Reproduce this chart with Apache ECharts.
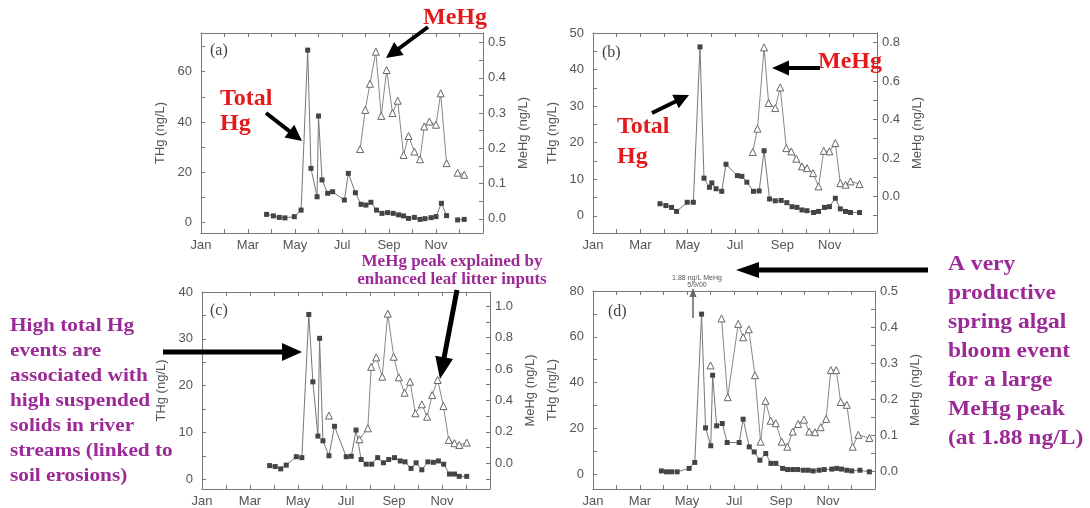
<!DOCTYPE html>
<html><head><meta charset="utf-8">
<script src="https://cdn.jsdelivr.net/npm/echarts@6/dist/echarts.min.js"></script>
<style>html,body{margin:0;padding:0;background:#fff}#c{width:1090px;height:508px}</style>
</head><body><div id="c"></div>
<script>
// ---------- DATA ----------
const monthNames = ['Jan','Mar','May','Jul','Sep','Nov'];
const monthLabelPos = [0,2,4,6,8,10];
const monthTickPos = [0,1,2,3,4,5,6,7,8,9,10,11,12];

// Panel (a)
const aThgMonth = [2.79,3.08,3.33,3.57,3.97,4.26,4.54,4.68,4.94,5.0,5.15,5.39,5.6,6.1,6.27,6.57,6.81,7.02,7.23,7.47,7.7,7.94,8.18,8.41,8.62,8.83,9.08,9.32,9.53,9.79,10.0,10.23,10.45,10.7,10.92,11.2];
const aThgVal   = [3.3,2.7,2.1,1.9,2.4,5.0,68.6,21.6,10.3,42.4,17.0,11.7,12.3,9.0,19.6,11.9,7.3,7.0,8.1,5.0,3.7,4.0,3.7,3.1,2.7,1.7,2.1,1.3,1.6,2.0,2.4,7.7,2.8,null,1.1,1.3];
const aMehgMonth = [6.77,6.99,7.19,7.44,7.67,7.9,8.15,8.37,8.62,8.83,9.08,9.32,9.5,9.72,10.0,10.2,10.45,10.7,10.92,11.2];
const aMehgVal   = [0.198,0.309,0.383,0.474,0.292,0.422,0.30,0.335,0.181,0.235,0.191,0.169,0.262,0.276,0.267,0.356,0.158,null,0.131,0.125];
const aThgLabels = [0,20,40,60];
const aThgTicks = [0,10,20,30,40,50,60,70];
const aMehgLabels = [0,0.1,0.2,0.3,0.4,0.5];
const aMehgTicks = [0,0.05,0.1,0.15,0.2,0.25,0.3,0.35,0.4,0.45,0.5];

// Panel (b)
const bThgMonth = [2.83,3.08,3.32,3.53,3.98,4.24,4.52,4.69,4.92,5.02,5.2,5.44,5.62,6.1,6.29,6.5,6.78,7.02,7.23,7.46,7.7,7.95,8.19,8.41,8.62,8.83,9.04,9.32,9.53,9.78,9.99,10.24,10.45,10.67,10.88,11.26];
const bThgVal   = [3.3,2.8,2.3,1.2,3.7,3.7,46.2,10.3,7.8,9.0,7.4,6.7,14.1,11.0,10.8,9.2,6.7,6.8,17.8,4.6,4.1,4.2,3.6,2.5,2.3,1.6,1.4,0.9,1.2,2.3,2.5,4.8,1.9,1.2,0.9,0.9];
const bMehgMonth = [6.75,6.95,7.23,7.42,7.7,7.91,8.17,8.38,8.59,8.83,9.04,9.3,9.53,9.75,9.99,10.24,10.45,10.67,10.88,11.26];
const bMehgVal   = [0.231,0.352,0.774,0.485,0.459,0.566,0.251,0.234,0.196,0.156,0.147,0.121,0.052,0.237,0.234,0.277,0.069,0.061,0.078,0.064];
const bThgLabels = [0,10,20,30,40,50];
const bThgTicks = [0,5,10,15,20,25,30,35,40,45,50];
const bMehgLabels = [0,0.2,0.4,0.6,0.8];
const bMehgTicks = [-0.1,0,0.1,0.2,0.3,0.4,0.5,0.6,0.7,0.8];

// Panel (c)
const cThgMonth = [2.82,3.05,3.28,3.51,3.93,4.16,4.45,4.62,4.83,4.9,5.04,5.29,5.52,6.01,6.22,6.42,6.63,6.84,7.07,7.32,7.56,7.78,8.02,8.26,8.46,8.71,8.92,9.16,9.41,9.64,9.85,10.07,10.31,10.52,10.72,11.03];
const cThgVal   = [2.9,2.7,2.2,3.0,4.8,4.6,35.2,20.8,9.2,30.1,8.2,5.0,11.3,4.8,4.9,10.5,4.2,3.2,3.2,4.6,3.5,4.2,4.6,3.9,3.7,2.3,3.5,2.0,3.7,3.6,3.9,3.2,1.1,1.1,0.6,0.6];
const cMehgMonth = [5.29,5.9,6.56,6.91,7.05,7.26,7.51,7.74,7.99,8.2,8.44,8.67,8.89,9.16,9.38,9.59,9.82,10.06,10.28,10.52,10.72,11.03];
const cMehgVal   = [0.303,null,0.152,0.222,0.614,0.674,0.551,0.953,0.678,0.547,0.449,0.519,0.318,0.375,0.296,0.434,0.53,0.364,0.148,0.127,0.116,0.131];
const cThgLabels = [0,10,20,30,40];
const cThgTicks = [0,5,10,15,20,25,30,35,40];
const cMehgLabels = [0,0.2,0.4,0.6,0.8,1.0];
const cMehgTicks = [-0.1,0,0.1,0.2,0.3,0.4,0.5,0.6,0.7,0.8,0.9,1.0];

// Panel (d)
const dThgMonth = [2.91,3.13,3.34,3.58,4.09,4.33,4.62,4.79,5.01,5.09,5.26,5.5,5.71,6.22,6.39,6.65,6.86,7.1,7.35,7.57,7.78,8.07,8.28,8.5,8.71,8.95,9.16,9.37,9.62,9.84,10.16,10.37,10.58,10.8,11.01,11.36,11.76];
const dThgVal   = [1.4,1.0,1.0,1.0,2.5,5.1,69.9,20.2,12.4,43.2,21.1,22.1,13.8,13.8,24.0,11.9,9.7,6.1,9.0,4.7,4.7,2.5,2.0,2.0,2.0,1.7,1.7,1.4,1.7,2.0,2.2,2.5,2.2,1.7,1.4,1.7,1.0];
const dMehgMonth = [5.0,5.2,5.47,5.73,6.18,6.39,6.63,6.89,7.13,7.34,7.56,7.78,8.03,8.27,8.5,8.73,8.98,9.2,9.45,9.69,9.92,10.12,10.35,10.54,10.8,11.05,11.29,11.76];
const dMehgVal   = [0.294,null,0.424,0.206,0.409,0.372,0.394,0.267,0.083,0.196,0.141,0.134,0.083,0.069,0.111,0.132,0.144,0.111,0.109,0.123,0.146,0.281,0.281,0.193,0.185,0.069,0.102,0.093];
const dThgLabels = [0,20,40,60,80];
const dThgTicks = [0,10,20,30,40,50,60,70,80];
const dMehgLabels = [0,0.1,0.2,0.3,0.4,0.5];
const dMehgTicks = [0,0.05,0.1,0.15,0.2,0.25,0.3,0.35,0.4,0.45,0.5];

// ---------- LAYOUT / STYLE ----------
const SANS = '"Liberation Sans", Arial, sans-serif';
const SERIF = '"Liberation Serif", "Times New Roman", serif';
const AX = '#777', TXT = '#555';
const panels = [
  {grid:{left:201,top:33,width:282,height:200}, yL:[-4.1,75.4], yR:[-0.040,0.527],
   thg:[aThgMonth,aThgVal], mehg:[aMehgMonth,aMehgVal], tl:aThgLabels, tt:aThgTicks, ml:aMehgLabels, mt:aMehgTicks},
  {grid:{left:593,top:33,width:284,height:200}, yL:[-4.7,50], yR:[-0.19,0.849],
   thg:[bThgMonth,bThgVal], mehg:[bMehgMonth,bMehgVal], tl:bThgLabels, tt:bThgTicks, ml:bMehgLabels, mt:bMehgTicks},
  {grid:{left:202,top:292,width:288,height:197}, yL:[-2.1,40], yR:[-0.165,1.091],
   thg:[cThgMonth,cThgVal], mehg:[cMehgMonth,cMehgVal], tl:cThgLabels, tt:cThgTicks, ml:cMehgLabels, mt:cMehgTicks},
  {grid:{left:593,top:291,width:282,height:198}, yL:[-6.5,80], yR:[-0.048,0.5],
   thg:[dThgMonth,dThgVal], mehg:[dMehgMonth,dMehgVal], tl:dThgLabels, tt:dThgTicks, ml:dMehgLabels, mt:dMehgTicks}
];

function pairs(xs, ys){ return xs.map((x,i)=>[x, ys[i]==null ? '-' : ys[i]]); }

const grid=[], xAxis=[], yAxis=[], series=[];
panels.forEach((p,i)=>{
  grid.push(Object.assign({show:false}, p.grid));
  const lineStyle = {color:AX, width:1};
  xAxis.push({type:'value', gridIndex:i, position:'bottom', min:0, max:12,
    axisLine:{onZero:false, lineStyle}, splitLine:{show:false},
    axisTick:{inside:true, length:4, customValues:monthTickPos, lineStyle},
    axisLabel:{customValues:monthLabelPos, formatter:v=>monthNames[Math.round(v/2)]||'', color:TXT, fontSize:13, fontFamily:SANS, margin:6}});
  xAxis.push({type:'value', gridIndex:i, position:'top', min:0, max:12,
    axisLine:{onZero:false, lineStyle}, splitLine:{show:false},
    axisTick:{inside:true, length:4, customValues:monthTickPos, lineStyle},
    axisLabel:{show:false}});
  yAxis.push({type:'value', gridIndex:i, position:'left', min:p.yL[0], max:p.yL[1],
    name:'THg (ng/L)', nameLocation:'middle', nameRotate:90, nameGap:34,
    nameTextStyle:{color:TXT, fontSize:13, fontFamily:SANS},
    axisLine:{show:true, onZero:false, lineStyle}, splitLine:{show:false},
    axisTick:{inside:true, length:4, customValues:p.tt, lineStyle},
    axisLabel:{customValues:p.tl, formatter:v=>String(Math.round(v)), color:TXT, fontSize:13, fontFamily:SANS, margin:9}});
  yAxis.push({type:'value', gridIndex:i, position:'right', min:p.yR[0], max:p.yR[1],
    name:'MeHg (ng/L)', nameLocation:'middle', nameRotate:90, nameGap:34,
    nameTextStyle:{color:TXT, fontSize:13, fontFamily:SANS},
    axisLine:{show:true, onZero:false, lineStyle}, splitLine:{show:false},
    axisTick:{inside:true, length:4, customValues:p.mt, lineStyle},
    axisLabel:{customValues:p.ml, formatter:v=>v.toFixed(1), color:TXT, fontSize:13, fontFamily:SANS, margin:5}});
  series.push({type:'line', name:'THg', xAxisIndex:2*i, yAxisIndex:2*i, data:pairs(p.thg[0],p.thg[1]),
    symbol:'rect', symbolSize:5, showAllSymbol:true, connectNulls:false, silent:true,
    lineStyle:{color:'#777', width:1}, itemStyle:{color:'#444'}});
  series.push({type:'line', name:'MeHg', xAxisIndex:2*i, yAxisIndex:2*i+1, data:pairs(p.mehg[0],p.mehg[1]),
    symbol:'triangle', symbolSize:7, showAllSymbol:true, connectNulls:false, silent:true,
    lineStyle:{color:'#888', width:1}, itemStyle:{color:'#fff', borderColor:'#666', borderWidth:1}});
});

// ---------- ANNOTATIONS ----------
function arrowPts(x1,y1,x2,y2,w,hl,hw){
  const dx=x2-x1, dy=y2-y1, L=Math.hypot(dx,dy), ux=dx/L, uy=dy/L, px=-uy, py=ux;
  const bx=x2-ux*hl, by=y2-uy*hl;
  return [[x1+px*w/2,y1+py*w/2],[bx+px*w/2,by+py*w/2],[bx+px*hw/2,by+py*hw/2],[x2,y2],
          [bx-px*hw/2,by-py*hw/2],[bx-px*w/2,by-py*w/2],[x1-px*w/2,y1-py*w/2]];
}
function arrow(x1,y1,x2,y2,w,hl,hw,color){
  return {type:'polygon', z:100, silent:true, shape:{points:arrowPts(x1,y1,x2,y2,w,hl,hw)}, style:{fill:color||'#000'}};
}
function txt(text,x,y,font,fill,align,sx){
  return {type:'text', z:100, silent:true, x:x, y:y, scaleX:sx||1,
    style:{text:text, font:font, fill:fill, align:align||'left', verticalAlign:'middle', textAlign:align||'left', textVerticalAlign:'middle'}};
}
const RED='#e3191c', PURPLE='#9c2a96';
const redFont='bold 24px '+SERIF;
const graphic=[
  txt('(a)',210,51,'16px '+SERIF,'#444'),
  txt('(b)',602,53,'16px '+SERIF,'#444'),
  txt('(c)',210,311,'16px '+SERIF,'#444'),
  txt('(d)',608,312,'16px '+SERIF,'#444'),
  txt('MeHg',423,18,redFont,RED),
  arrow(428,27,386,58,4,16,16),
  txt('Total',220,99,redFont,RED),
  txt('Hg',220,124,redFont,RED),
  arrow(266,113,302,141,4,16,16),
  txt('MeHg',818,62,redFont,RED),
  arrow(820,68,772,68,4,17,15),
  txt('Total',617,127,redFont,RED),
  txt('Hg',617,157,redFont,RED),
  arrow(652,113,689,95,4,15,15),
  txt('MeHg peak explained by',452,262,'bold 17px '+SERIF,PURPLE,'center'),
  txt('enhanced leaf litter inputs',452,280,'bold 17px '+SERIF,PURPLE,'center'),
  arrow(457,290,440,379,5,22,18),
  arrow(163,352,302,352,5,20,18),
  txt('1.88 ng/L MeHg',697,278,'7px '+SANS,'#555','center'),
  txt('5/9/00',697,285,'7px '+SANS,'#555','center'),
  arrow(693,318,693,288,1.5,9,7,'#666'),
  arrow(928,270,736,270,5,23,16)
];
const leftLines=['High total Hg','events are','associated with','high suspended','solids in river','streams (linked to','soil erosions)'];
leftLines.forEach((s,k)=>graphic.push(txt(s,10,326+25*k,'bold 19px '+SERIF,PURPLE,'left',1.12)));
const rightLines=['A very','productive','spring algal','bloom event','for a large','MeHg peak','(at 1.88 ng/L)'];
rightLines.forEach((s,k)=>graphic.push(txt(s,948,265+29*k,'bold 21px '+SERIF,PURPLE,'left',1.12)));

const chart = echarts.init(document.getElementById('c'), null, {renderer:'canvas'});
chart.setOption({animation:false, backgroundColor:'#fff', grid, xAxis, yAxis, series, graphic});
</script></body></html>
